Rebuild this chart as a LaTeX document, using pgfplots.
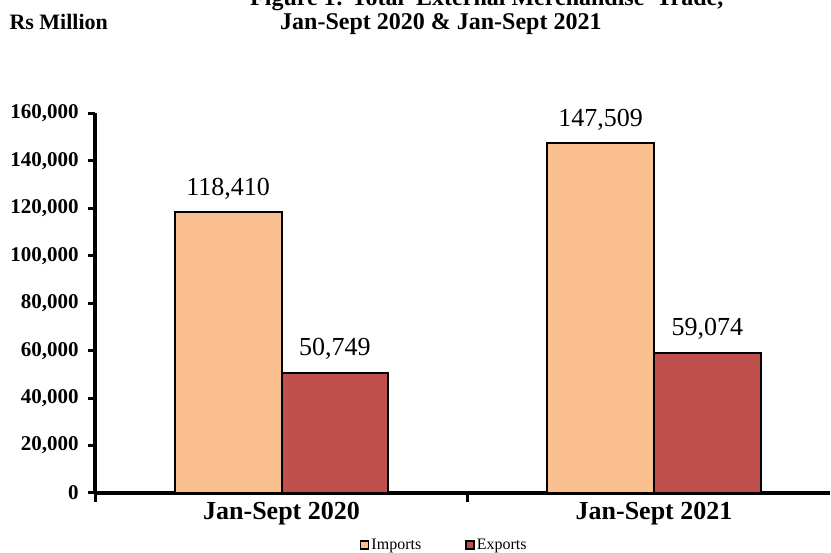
\documentclass[border=0pt]{standalone}
\usepackage{fontspec}
\setmainfont{Liberation Serif}
\usepackage{pgfplots}
\pgfplotsset{compat=1.18}
\definecolor{impc}{HTML}{FAC090}
\definecolor{expc}{HTML}{C0504D}
\begin{document}
\begin{tikzpicture}
\begin{axis}[
  at={(0pt,0pt)}, anchor=south west,
  scale only axis, width=734.8pt, height=379.6pt,
  xmin=-0.5, xmax=1.4725, ymin=0, ymax=160000,
  ybar=0pt, bar width=0.287,
  axis x line*=bottom, axis y line*=left,
  axis line style={line width=3.5pt, -},
  clip=false,
  /pgf/number format/fixed,
  /pgf/number format/precision=0,
  /pgf/number format/1000 sep={,},
  /pgf/number format/assume math mode=true,
  scaled y ticks=false,
  ytick distance=20000,
  tick align=outside,
  major tick length=7pt,
  major tick style={line width=3pt, black},
  yticklabel style={font=\fontsize{21}{25}\selectfont\bfseries, xshift=-6pt},
  xtick={0,1},
  xticklabels={Jan-Sept 2020, Jan-Sept 2021},
  major x tick style={draw=none},
  minor xtick={-0.5,0.5},
  minor x tick style={line width=3pt, black},
  minor tick length=9pt,
  xticklabel style={font=\fontsize{26}{30}\selectfont\bfseries, anchor=base, yshift=-20pt},
  nodes near coords,
  every node near coord/.append style={font=\fontsize{26}{30}\selectfont, anchor=base, yshift=17pt},
  legend style={at={(0.360,-0.137)}, anchor=west, draw=none, fill=none,
    font=\fontsize{16}{19}\selectfont, inner sep=0pt,
    /tikz/every even column/.append style={column sep=42pt}},
  legend columns=2,
  legend image code/.code={\draw[#1, draw=black, line width=1.5pt] (0pt,-4pt) rectangle (8pt,4pt);},
]
\addplot[fill=impc, draw=black, line width=2pt] coordinates {(0,118410) (1,147509)};
\addplot[fill=expc, draw=black, line width=2pt] coordinates {(0,50749) (1,59074)};
\legend{Imports, Exports}
\end{axis}
\node[anchor=base west, font=\fontsize{22}{26}\selectfont\bfseries] at (-89.25pt,463pt) {Rs Million};
\node[anchor=base west, font=\fontsize{24}{28}\selectfont\bfseries, inner sep=0pt] at (184.75pt,463.5pt) {Jan-Sept 2020 \& Jan-Sept 2021};
\node[anchor=base west, font=\fontsize{24}{28}\selectfont\bfseries, inner sep=0pt] at (154.75pt,487pt) {Figure 1: Total\ \ External Merchandise\ \ Trade,};
\pgfresetboundingbox
\useasboundingbox (-95.25pt,-60pt) rectangle (735.75pt,493pt);
\end{tikzpicture}
\end{document}
